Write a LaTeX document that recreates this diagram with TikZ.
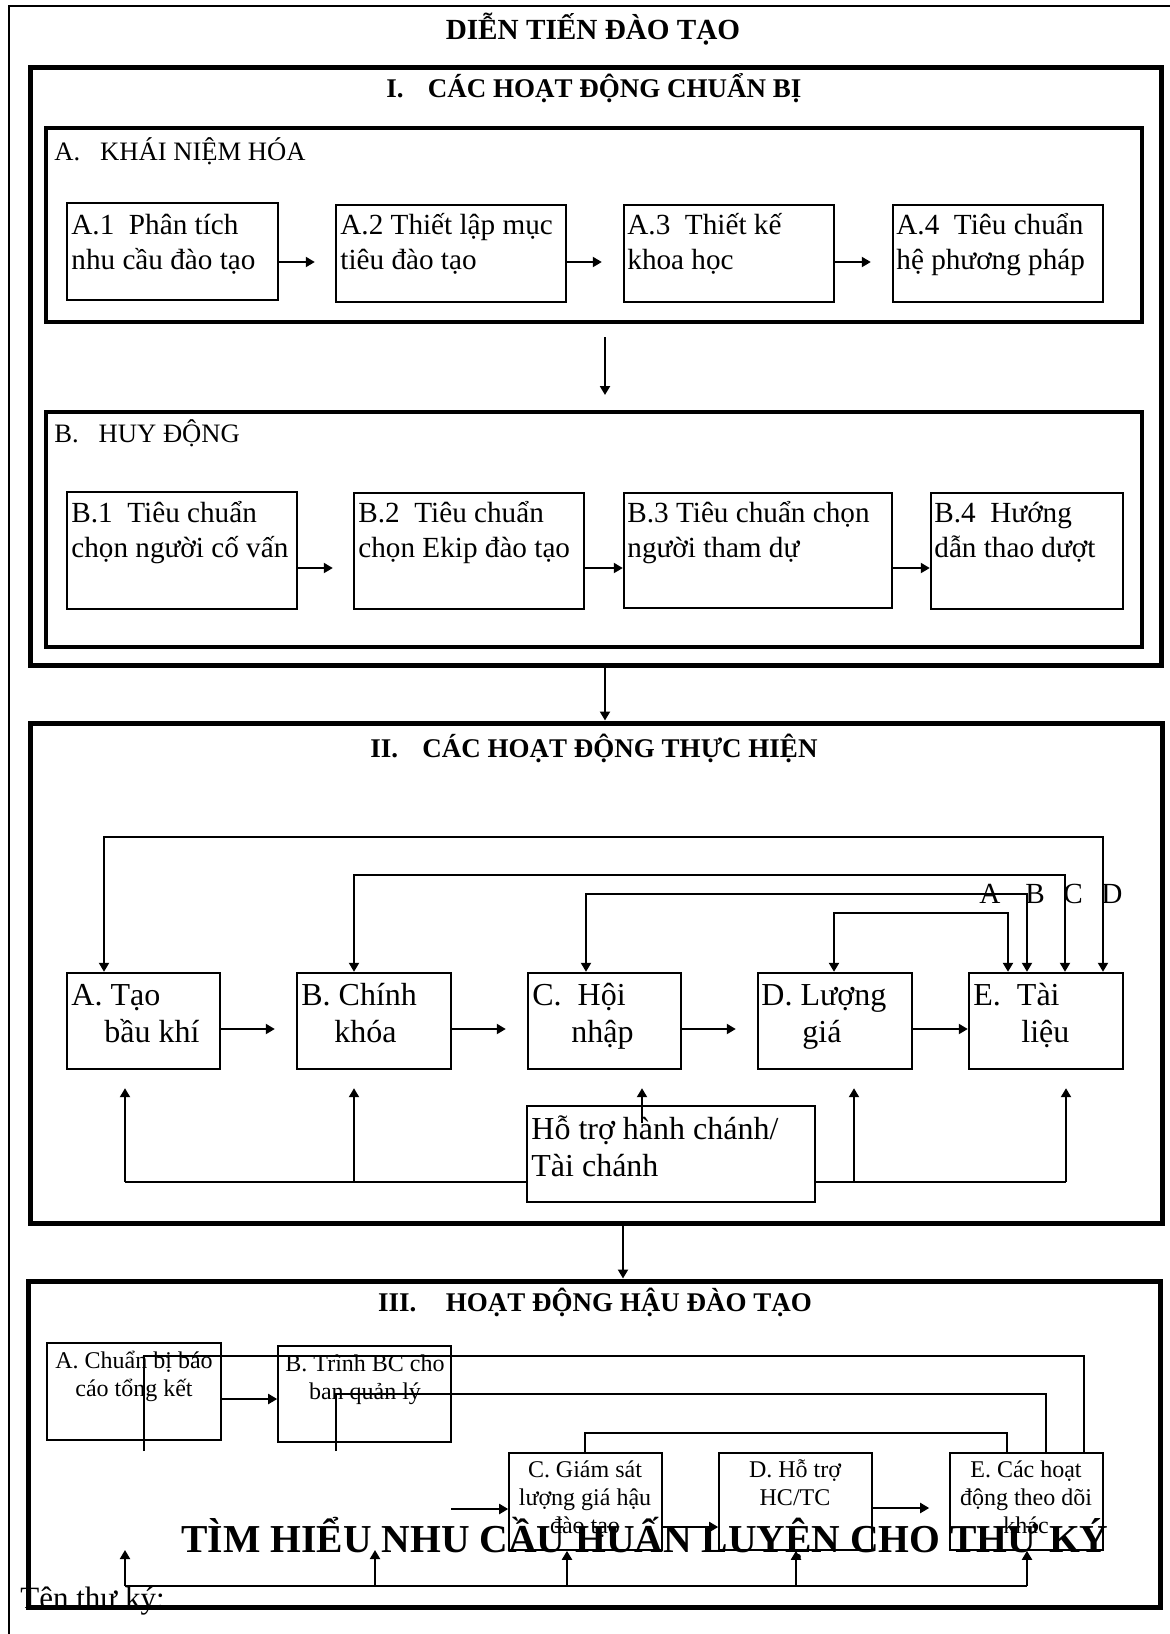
\documentclass[tikz,border=0pt]{standalone}
\usepackage{fontspec}
\setmainfont{Liberation Serif}
\usetikzlibrary{fit,arrows.meta}
\newcommand\fsz[2]{\fontsize{#1}{#2}\selectfont}
\newcommand\llines[1]{\begin{tabular}[t]{@{}l@{}}#1\end{tabular}}
\newcommand\clines[1]{\begin{tabular}[t]{@{}c@{}}#1\end{tabular}}
\begin{document}
\begin{tikzpicture}[x=0.5pt,y=-0.5pt,
  frame/.style={draw,line width=2.5pt,inner sep=0pt},
  subframe/.style={draw,line width=2.3pt,inner sep=0pt},
  sbox/.style={draw,line width=1.2pt,inner sep=0pt,fill=white},
  tbox/.style={draw,line width=0.8pt,inner sep=0pt,fill=white},
  conn/.style={line width=1pt},
  >={Triangle[length=4.5pt,width=5pt]},
  arr/.style={conn,->},
  dbl/.style={conn,<->},
  txtL/.style={inner sep=0pt,anchor=base west},
  txtC/.style={inner sep=0pt,anchor=base},
  ftI/.style={font=\fsz{14.6}{17.5}},
  ftG/.style={font=\fsz{13.3}{16}},
  ftII/.style={font=\fsz{16}{18.5}},
  ftIII/.style={font=\fsz{12}{14}},
  head/.style={font=\bfseries\fsz{13.5}{16}}]
\useasboundingbox (0,0) rectangle (1170,1634);
% outer frame
\draw[line width=0.8pt] (9,1660) -- (9,6) -- (1190,6);
\node[txtC,font=\bfseries\fsz{14.6}{17}] (title) at (593,39) {DIỄN TIẾN ĐÀO TẠO};

% ===== Section I =====
\node[frame,fit={(30,67) (1161,665)}] (secI) {};
\node[txtC,head] (secIt) at (594,97) {I.\hspace{0.9em}CÁC HOẠT ĐỘNG CHUẨN BỊ};

\node[subframe,fit={(46,128) (1142,322)}] (grpA) {};
\node[txtL,ftG] (grpAt) at (54,160) {A.\hspace{0.75em}KHÁI NIỆM HÓA};
\node[sbox,fit={(67,203) (278,300)}] (a1) {};
\node[sbox,fit={(336,205) (566,302)}] (a2) {};
\node[sbox,fit={(624,205) (834,302)}] (a3) {};
\node[sbox,fit={(893,205) (1103,302)}] (a4) {};
\node[txtL,ftI] (a1t) at (71,234) {\llines{A.1\ \ Phân tích\\nhu cầu đào tạo}};
\node[txtL,ftI] (a2t) at (340,234) {\llines{A.2 Thiết lập mục\\tiêu đào tạo}};
\node[txtL,ftI] (a3t) at (627,234) {\llines{A.3\ \ Thiết kế\\khoa học}};
\node[txtL,ftI] (a4t) at (896,234) {\llines{A.4\ \ Tiêu chuẩn\\hệ phương pháp}};
\draw[arr] (a1.east |- 0,262) -- ([xshift=-10pt]a2.west |- 0,262);
\draw[arr] (a2.east |- 0,262) -- ([xshift=-10.5pt]a3.west |- 0,262);
\draw[arr] (a3.east |- 0,262) -- ([xshift=-10.5pt]a4.west |- 0,262);

\node[subframe,fit={(46,412) (1142,647)}] (grpB) {};
\node[txtL,ftG] (grpBt) at (54,442) {B.\hspace{0.75em}HUY ĐỘNG};
\coordinate (abS) at (605,337);
\coordinate (abE) at (605,395);
\draw[arr] (abS) -- (abE);
\node[sbox,fit={(67,492) (297,609)}] (b1) {};
\node[sbox,fit={(354,493) (584,609)}] (b2) {};
\node[sbox,fit={(624,493) (892,608)}] (b3) {};
\node[sbox,fit={(931,493) (1123,609)}] (b4) {};
\node[txtL,ftI] (b1t) at (71,522) {\llines{B.1\ \ Tiêu chuẩn\\chọn người cố vấn}};
\node[txtL,ftI] (b2t) at (358,522) {\llines{B.2\ \ Tiêu chuẩn\\chọn Ekip đào tạo}};
\node[txtL,ftI] (b3t) at (627,522) {\llines{B.3 Tiêu chuẩn chọn\\người tham dự}};
\node[txtL,ftI] (b4t) at (934,522) {\llines{B.4\ \ Hướng\\dẫn thao dượt}};
\draw[arr] (b1.east |- 0,568) -- ([xshift=-10pt]b2.west |- 0,568);
\draw[arr] (b2.east |- 0,568) -- (b3.west |- 0,568);
\draw[arr] (b3.east |- 0,568) -- (b4.west |- 0,568);

% ===== Section II =====
\node[frame,fit={(30,723) (1162,1223)}] (secII) {};
\draw[arr] (secI.south -| 605,0) -- (secII.north -| 605,0);
\node[txtC,head] (secIIt) at (594,757) {II.\hspace{0.9em}CÁC HOẠT ĐỘNG THỰC HIỆN};
\node[sbox,fit={(67,973) (220,1069)}] (ta) {};
\node[sbox,fit={(297,973) (451,1069)}] (tb) {};
\node[sbox,fit={(528,973) (681,1069)}] (tc) {};
\node[sbox,fit={(758,973) (912,1069)}] (td) {};
\node[sbox,fit={(969,973) (1123,1069)}] (te) {};
\node[txtL,ftII] (tat) at (71,1005) {\llines{A. Tạo\\\hspace*{16.5pt}bầu khí}};
\node[txtL,ftII] (tbt) at (301,1005) {\llines{B. Chính\\\hspace*{16.5pt}khóa}};
\node[txtL,ftII] (tct) at (532,1005) {\llines{C.\ \ Hội\\\hspace*{19.5pt}nhập}};
\node[txtL,ftII] (tdt) at (761,1005) {\llines{D. Lượng\\\hspace*{20.5pt}giá}};
\node[txtL,ftII] (tet) at (973,1005) {\llines{E.\ \ Tài\\\hspace*{24pt}liệu}};
\draw[arr] (ta.east |- 0,1029) -- ([xshift=-10.5pt]tb.west |- 0,1029);
\draw[arr] (tb.east |- 0,1029) -- ([xshift=-10.5pt]tc.west |- 0,1029);
\draw[arr] (tc.east |- 0,1029) -- ([xshift=-10.5pt]td.west |- 0,1029);
\draw[arr] (td.east |- 0,1029) -- (te.west |- 0,1029);
% feedback loops
\draw[dbl] (ta.north -| 104,0) -- (104,837) -- (1103,837) -- (te.north -| 1103,0);
\draw[dbl] (tb.north -| 354,0) -- (354,875) -- (1065,875) -- (te.north -| 1065,0);
\draw[dbl] (tc.north -| 586,0) -- (586,894) -- (1027,894) -- (te.north -| 1027,0);
\draw[dbl,line width=1.4pt] (td.north -| 834,0) -- (834,913) -- (1008,913) -- (te.north -| 1008,0);
\node[txtC,ftI] (lA) at (990,903) {A};
\node[txtC,ftI] (lB) at (1035,903) {B};
\node[txtC,ftI] (lC) at (1073,903) {C};
\node[txtC,ftI] (lD) at (1112,903) {D};
% support
\coordinate (busL) at (125,1182);
\coordinate (busR) at (1066,1182);
\draw[conn] (busL) -- (busR);
\node[sbox,fit={(527,1106) (815,1202)}] (hotro) {};
\node[txtL,ftII] (hotrot) at (531,1139) {\llines{Hỗ trợ hành chánh/\\Tài chánh}};
\draw[arr,shorten >=9pt] (busL) -- (ta.south -| busL);
\draw[arr,shorten >=9pt] (354,1182) -- (tb.south -| 354,0);
\draw[arr,shorten >=9pt] (642,1123) -- (tc.south -| 642,0);
\draw[arr,shorten >=9pt] (854,1182) -- (td.south -| 854,0);
\draw[arr,shorten >=9pt] (busR) -- (te.south -| busR);

% ===== Section III =====
\node[frame,fit={(28,1281) (1160,1607)}] (secIII) {};
\draw[arr] (secII.south -| 623,0) -- (secIII.north -| 623,0);
\node[txtC,head] (secIIIt) at (595,1311) {III.\hspace{1.1em}HOẠT ĐỘNG HẬU ĐÀO TẠO};
\node[tbox,fit={(47,1343) (221,1440)}] (pa) {};
\node[tbox,fit={(278,1346) (451,1442)}] (pb) {};
\node[tbox,fit={(509,1453) (662,1550)}] (pc) {};
\node[tbox,fit={(719,1453) (872,1550)}] (pd) {};
\node[tbox,fit={(950,1453) (1103,1550)}] (pe) {};
\node[txtC,ftIII] (pat) at (134,1368) {\clines{A. Chuẩn bị báo\\cáo tổng kết}};
\node[txtC,ftIII] (pbt) at (365,1371) {\clines{B. Trình BC cho\\ban quản lý}};
\node[txtC,ftIII] (pct) at (585,1477) {\clines{C. Giám sát\\lượng giá hậu\\đào tạo}};
\node[txtC,ftIII] (pdt) at (795,1477) {\clines{D. Hỗ trợ\\HC/TC}};
\node[txtC,ftIII] (pet) at (1026,1477) {\clines{E. Các hoạt\\động theo dõi\\khác}};
\draw[arr] (pa.east |- 0,1399) -- (pb.west |- 0,1399);
\coordinate (inC) at (451,1509);
\draw[arr] (inC) -- (pc.west |- inC);
\draw[arr] (pc.east |- 0,1527) -- (pd.west |- 0,1527);
\draw[arr] (pd.east |- 0,1508) -- ([xshift=-10pt]pe.west |- 0,1508);
% open feedback lines
\coordinate (fa) at (144,1451);
\coordinate (fb) at (336,1451);
\draw[conn] (fa) -- (144,1356) -- (1084,1356) -- (pe.north -| 1084,0);
\draw[conn] (fb) -- (336,1394) -- (1046,1394) -- (pe.north -| 1046,0);
\draw[conn] (pc.north -| 585,0) -- (585,1433) -- (1007,1433) -- (pe.north -| 1007,0);
% bottom bus
\coordinate (bbL) at (125,1586);
\coordinate (bbR) at (1027,1586);
\coordinate (bbLt) at (125,1550);
\coordinate (bbBt) at (375,1550);
\draw[conn] (bbL) -- (bbR);
\draw[arr] (bbL) -- (bbLt);
\draw[arr] (375,1586) -- (bbBt);
\draw[arr] (567,1586) -- (pc.south -| 567,0);
\draw[arr] (796,1586) -- (pd.south -| 796,0);
\draw[arr] (bbR) -- (pe.south -| bbR);
\node[txtC,font=\bfseries\fsz{19.8}{22}] (bigt) at (645,1552) {TÌM HIỂU NHU CẦU HUẤN LUYỆN CHO THƯ KÝ};
\node[txtL,font=\fsz{15.5}{18}] (ten) at (20,1608) {Tên thư ký:};
\end{tikzpicture}
\end{document}
